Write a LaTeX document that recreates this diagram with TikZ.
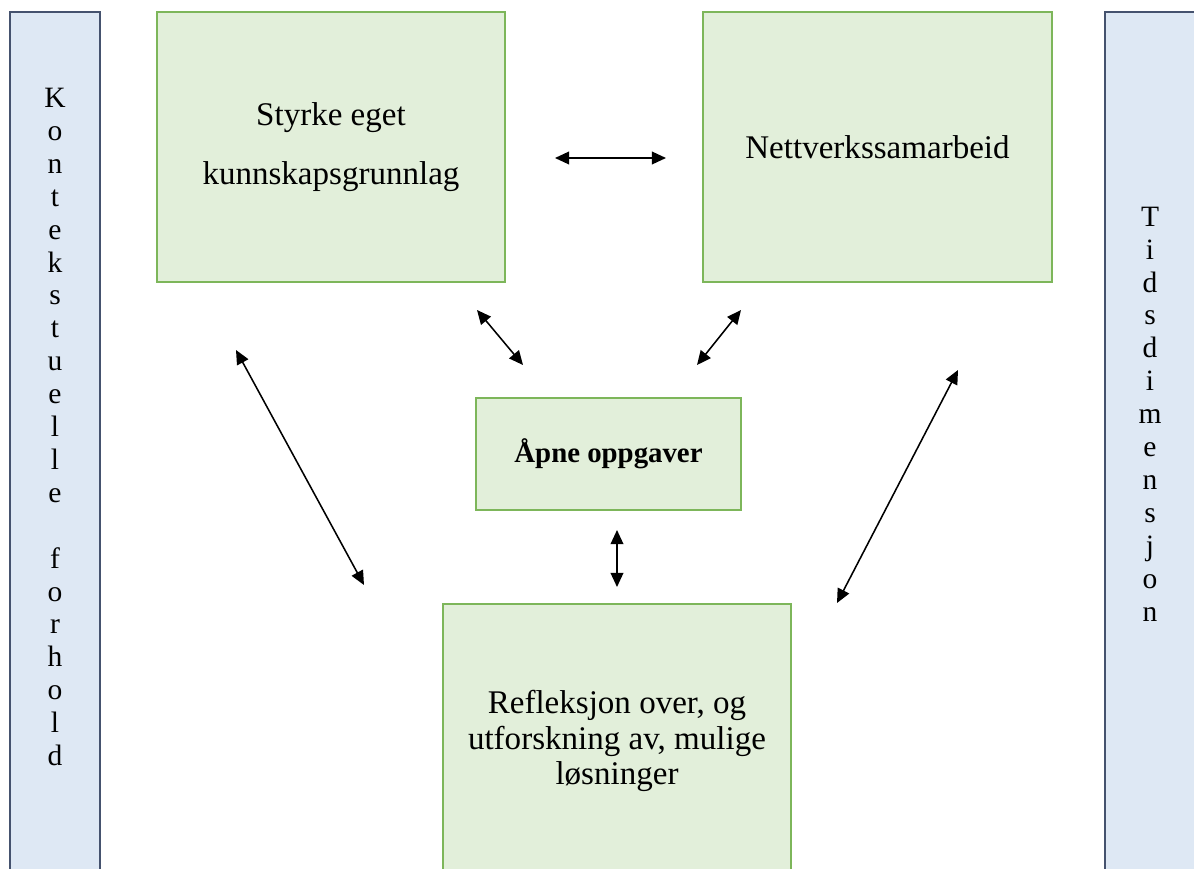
\documentclass[tikz,border=0pt]{standalone}
\usepackage{fontspec}
\setmainfont{Liberation Serif}
\usetikzlibrary{arrows.meta}

\definecolor{boxgreen}{HTML}{E2EFDA}
\definecolor{edgegreen}{HTML}{7DB65A}
\definecolor{barblue}{HTML}{DEE8F4}
\definecolor{edgeblue}{HTML}{45526E}

\tikzset{
  greenbox/.style={draw=edgegreen,fill=boxgreen,line width=1pt,align=center,inner sep=0pt,
    font=\fontsize{23.5}{25}\selectfont},
  sidebar/.style={draw=edgeblue,fill=barblue,line width=1.3pt},
  sidetext/.style={align=center,font=\fontsize{21}{23.4}\selectfont},
  link/.style={{Triangle[length=10pt,width=9pt]}-{Triangle[length=10pt,width=9pt]},line width=1.1pt}
}

\begin{document}
\begin{tikzpicture}[x=0.025cm,y=-0.025cm]
\clip (0,0) rectangle (1194,868);

\draw[sidebar] (10,12) rectangle (100,900);
\draw[sidebar] (1105,12) rectangle (1220,900);

\node[sidetext] (kontekst) at (55,427) {K\\o\\n\\t\\e\\k\\s\\t\\u\\e\\l\\l\\e\\~\\f\\o\\r\\h\\o\\l\\d};
\node[sidetext] (tid) at (1150,414) {T\\i\\d\\s\\d\\i\\m\\e\\n\\s\\j\\o\\n};

\node[greenbox,minimum width=8.7cm,minimum height=6.75cm,font=\fontsize{23.5}{42.5}\selectfont] (styrke) at (331,147)
  {Styrke eget\\kunnskapsgrunnlag};
\node[greenbox,minimum width=8.725cm,minimum height=6.75cm] (nettverk) at (877.5,147) {Nettverkssamarbeid};
\node[greenbox,minimum width=6.625cm,minimum height=2.8cm,font=\fontsize{20.5}{23}\selectfont\bfseries] (oppgaver) at (608.5,454) {Åpne oppgaver};
\node[greenbox,minimum width=8.7cm,minimum height=6.85cm] (refleksjon) at (617,741)
  {Refleksjon over, og\\utforskning av, mulige\\løsninger};

% arrow ends
\coordinate (h1) at (555,158);
\coordinate (h2) at (666,158);
\coordinate (a1) at (477,310);
\coordinate (a2) at (523,365);
\coordinate (b1) at (741,310);
\coordinate (b2) at (697,365);
\coordinate (c1) at (617,530);
\coordinate (c2) at (617,587);
\coordinate (l1) at (236,350);
\coordinate (l2) at (364,585);
\coordinate (r1) at (958,370);
\coordinate (r2) at (837,603);

\draw[link] (h1) -- (h2);
\draw[link] (a1) -- (a2);
\draw[link] (b1) -- (b2);
\draw[link] (c1) -- (c2);
\draw[link] (l1) -- (l2);
\draw[link] (r1) -- (r2);
\end{tikzpicture}
\end{document}
